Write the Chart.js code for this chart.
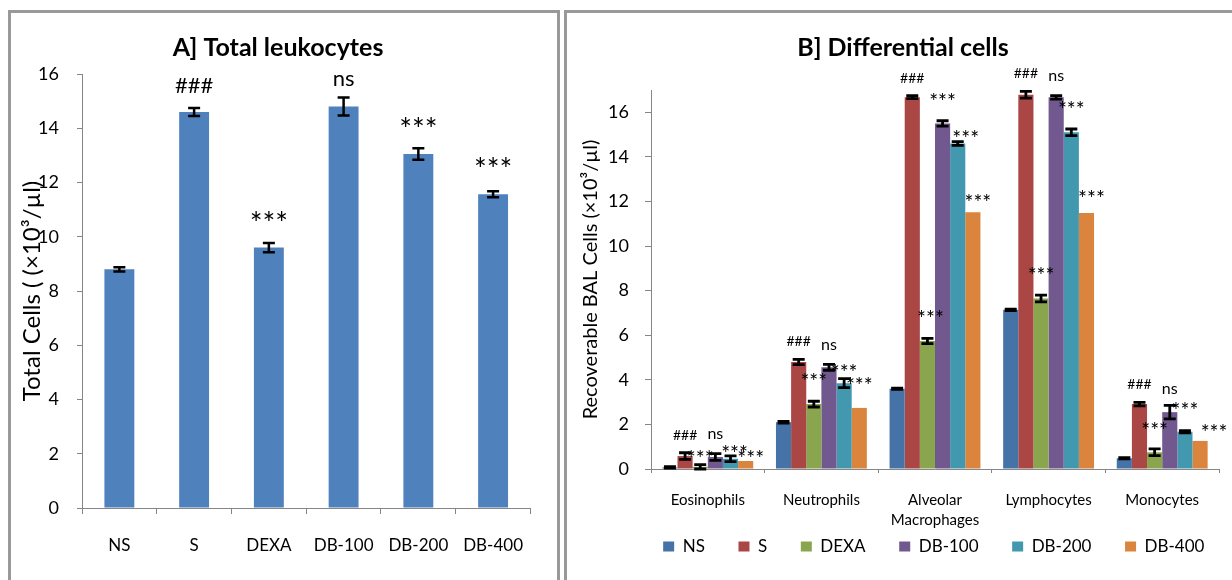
<!DOCTYPE html>
<html>
<head>
<meta charset="utf-8">
<script src="https://cdn.jsdelivr.net/npm/chart.js@4.4.1/dist/chart.umd.min.js"></script>
<style>
    body { margin: 0; background: #fff; width: 1232px; height: 580px; overflow: hidden; position: relative; }
    .panel { position: absolute; top: 10px; height: 620px; border: 3px solid #999; box-sizing: border-box; }
    #panelA { left: 8px; width: 552px; }
    #panelB { left: 564px; width: 700px; }
    canvas { position: absolute; }
    #chartA { left: 11px; top: 13px; }
    #chartB { left: 568px; top: 13px; }
</style>
</head>
<body>
<div class="panel" id="panelA"></div>
<div class="panel" id="panelB"></div>
<canvas id="chartA" width="534" height="543"></canvas>
<canvas id="chartB" width="670" height="552"></canvas>
<script>
// ========================================
// DADOS
// ========================================

// A] Total leukocytes
const groupsA = ['NS', 'S', 'DEXA', 'DB-100', 'DB-200', 'DB-400'];
const totalCells = [8.8, 14.6, 9.6, 14.8, 13.05, 11.57];
const totalCellsErr = [0.08, 0.15, 0.17, 0.33, 0.21, 0.11];
const totalCellsSig = ['', '###', '***', 'ns', '***', '***'];

// B] Differential cells
const cellTypes = ['Eosinophils', 'Neutrophils', ['Alveolar', 'Macrophages'], 'Lymphocytes', 'Monocytes'];
const groupsB = ['NS', 'S', 'DEXA', 'DB-100', 'DB-200', 'DB-400'];

const valNS = [0.07, 2.1, 3.6, 7.14, 0.48];
const valS = [0.58, 4.8, 16.68, 16.79, 2.91];
const valDEXA = [0.1, 2.91, 5.74, 7.65, 0.75];
const valDB100 = [0.54, 4.56, 15.5, 16.67, 2.55];
const valDB200 = [0.46, 3.85, 14.6, 15.1, 1.67];
const valDB400 = [0.36, 2.74, 11.52, 11.48, 1.26];

const errNS = [0.03, 0.04, 0.03, 0.03, 0.03];
const errS = [0.15, 0.12, 0.07, 0.15, 0.08];
const errDEXA = [0.1, 0.13, 0.12, 0.15, 0.15];
const errDB100 = [0.15, 0.13, 0.12, 0.08, 0.3];
const errDB200 = [0.13, 0.2, 0.08, 0.15, 0.05];
const errDB400 = [0, 0, 0, 0, 0];

const sigS = ['###', '###', '###', '###', '###'];
const sigDEXA = ['***', '***', '***', '***', '***'];
const sigDB100 = ['ns', 'ns', '***', 'ns', 'ns'];
const sigDB200 = ['***', '***', '***', '***', '***'];
const sigDB400 = ['***', '***', '***', '***', '***'];

// ========================================
// ESTILO
// ========================================
const FONT = "Lato, 'Open Sans', sans-serif";
const AXIS = '#868686';
const coresB = ['#4572A7', '#AA4643', '#89A54E', '#71588F', '#4198AF', '#DB843D'];

Chart.defaults.font.family = FONT;
Chart.defaults.color = '#000';

// --- barras de erro (média ± erro) ---
const errorBarsPlugin = {
    id: 'errorBars',
    afterDatasetsDraw(chart, args, opts) {
        const { ctx } = chart;
        const y = chart.scales.y;
        ctx.save();
        ctx.strokeStyle = '#000';
        ctx.lineWidth = opts.lineWidth;
        chart.data.datasets.forEach((ds, i) => {
            if (!ds.errors) return;
            chart.getDatasetMeta(i).data.forEach((bar, j) => {
                const e = ds.errors[j];
                if (!e) return;
                const top = y.getPixelForValue(ds.data[j] + e);
                const bot = y.getPixelForValue(ds.data[j] - e);
                const half = opts.capWidth / 2;
                ctx.beginPath();
                ctx.moveTo(bar.x, top); ctx.lineTo(bar.x, bot);
                ctx.moveTo(bar.x - half, top); ctx.lineTo(bar.x + half, top);
                ctx.moveTo(bar.x - half, bot); ctx.lineTo(bar.x + half, bot);
                ctx.stroke();
            });
        });
        ctx.restore();
    }
};

// --- marcas de significância (###, ***, ns) ---
const sigPlugin = {
    id: 'sigLabels',
    afterDatasetsDraw(chart, args, opts) {
        const { ctx } = chart;
        const y = chart.scales.y;
        ctx.save();
        ctx.fillStyle = '#000';
        ctx.textAlign = 'center';
        ctx.textBaseline = 'alphabetic';
        chart.data.datasets.forEach((ds, i) => {
            if (!ds.sig) return;
            chart.getDatasetMeta(i).data.forEach((bar, j) => {
                const txt = ds.sig[j];
                if (!txt) return;
                const st = opts.styles[txt];
                const adj = opts.adjust[i + '-' + j] || {};
                const err = ds.errors ? (ds.errors[j] || 0) : 0;
                const top = y.getPixelForValue(ds.data[j] + err);
                const gap = adj.gap !== undefined ? adj.gap : st.gap;
                ctx.font = `${st.size}px ${FONT}`;
                ctx.fillText(txt, bar.x + (adj.dx || 0), top - gap + st.size * st.mid);
            });
        });
        ctx.restore();
    }
};

// ========================================
// GRÁFICO A
// ========================================
new Chart(document.getElementById('chartA'), {
    type: 'bar',
    data: {
        labels: groupsA,
        datasets: [{
            data: totalCells,
            errors: totalCellsErr,
            sig: totalCellsSig,
            backgroundColor: '#4F81BD',
            barPercentage: 0.4,
            categoryPercentage: 1
        }]
    },
    options: {
        responsive: false,
        animation: false,
        layout: { padding: 0 },
        plugins: {
            legend: { display: false },
            tooltip: { enabled: false },
            title: {
                display: true,
                text: 'A] Total leukocytes',
                color: '#000',
                font: { size: 25, weight: 'bold' },
                padding: { top: 20, bottom: 11 }
            },
            errorBars: { lineWidth: 2.5, capWidth: 12 },
            sigLabels: {
                styles: {
                    '###': { size: 22, gap: 23, mid: 0.36 },
                    'ns': { size: 22, gap: 17, mid: 0.26 },
                    '***': { size: 30, gap: 27, mid: 0.6 }
                },
                adjust: { '0-4': { gap: 26 }, '0-5': { gap: 29 } }
            }
        },
        scales: {
            x: {
                ticks: { color: '#000', font: { size: 17 }, padding: 21, maxRotation: 0, autoSkip: false },
                grid: { drawOnChartArea: false, tickLength: 6, color: AXIS },
                border: { color: AXIS },
                afterFit: s => { s.height = 48; }
            },
            y: {
                min: 0, max: 16,
                ticks: { stepSize: 2, color: '#000', font: { size: 18 }, padding: 18 },
                grid: { drawOnChartArea: false, tickLength: 5, color: AXIS },
                border: { color: AXIS },
                title: {
                    display: true,
                    text: 'Total Cells ( (×10³/µl)',
                    color: '#000',
                    font: { size: 24 },
                    padding: { top: 6.6, bottom: 0 }
                },
                afterFit: s => { s.width = 71; }
            },
            // margem à direita da área do gráfico
            yPad: {
                position: 'right',
                display: true,
                grid: { display: false },
                ticks: { display: false },
                border: { display: false },
                afterFit: s => { s.width = 12; }
            }
        }
    },
    plugins: [errorBarsPlugin, sigPlugin]
});

// ========================================
// GRÁFICO B
// ========================================
const seriesB = [
    { data: valNS, errors: errNS, sig: null },
    { data: valS, errors: errS, sig: sigS },
    { data: valDEXA, errors: errDEXA, sig: sigDEXA },
    { data: valDB100, errors: errDB100, sig: sigDB100 },
    { data: valDB200, errors: errDB200, sig: sigDB200 },
    { data: valDB400, errors: errDB400, sig: sigDB400 }
];

// espaço extra entre os itens da legenda (sem mexer na altura)
const LEGEND_GAP = '      ';

new Chart(document.getElementById('chartB'), {
    type: 'bar',
    data: {
        labels: cellTypes,
        datasets: seriesB.map((s, i) => ({
            label: groupsB[i],
            data: s.data,
            errors: s.errors,
            sig: s.sig,
            backgroundColor: coresB[i],
            barPercentage: 1,
            categoryPercentage: 0.8
        }))
    },
    options: {
        responsive: false,
        animation: false,
        layout: { padding: 0 },
        plugins: {
            tooltip: { enabled: false },
            title: {
                display: true,
                text: 'B] Differential cells',
                color: '#000',
                font: { size: 25, weight: 'bold' },
                padding: { top: 20, bottom: 27 }
            },
            legend: {
                position: 'bottom',
                align: 'end',
                labels: {
                    boxWidth: 11, boxHeight: 10, padding: 7.5, color: '#000', font: { size: 17 },
                    generateLabels: chart => Chart.defaults.plugins.legend.labels.generateLabels(chart)
                        .map(l => ({ ...l, text: l.text + LEGEND_GAP }))
                }
            },
            errorBars: { lineWidth: 2.8, capWidth: 12 },
            sigLabels: {
                styles: {
                    '###': { size: 14, gap: 18, mid: 0.36 },
                    'ns': { size: 16, gap: 19, mid: 0.26 },
                    '***': { size: 21, gap: 25, mid: 0.6 }
                },
                adjust: {
                    '2-0': { gap: 11.5 }, '4-0': { dx: 4, gap: 7 }, '5-0': { dx: 5, gap: 8 },
                    '4-1': { gap: 11 }, '5-1': { gap: 28 },
                    '2-2': { dx: 3 }, '3-2': { gap: 24 }, '4-2': { dx: 8, gap: 8 }, '5-2': { dx: 5, gap: 15 },
                    '5-3': { dx: 5, gap: 20 },
                    '2-4': { gap: 24 }, '3-4': { gap: 15.5 }, '5-4': { dx: 14, gap: 14 }
                }
            }
        },
        scales: {
            x: {
                ticks: { color: '#000', font: { size: 15, lineHeight: 1.33 }, padding: 17.5, maxRotation: 0, autoSkip: false },
                grid: { drawOnChartArea: false, tickLength: 4, color: AXIS },
                border: { color: AXIS },
                afterFit: s => { s.height = 61.5; }
            },
            y: {
                min: 0, max: 17,
                ticks: { stepSize: 2, includeBounds: false, color: '#000', font: { size: 18 }, padding: 16 },
                grid: { drawOnChartArea: false, tickLength: 6, color: AXIS },
                border: { color: AXIS },
                title: {
                    display: true,
                    text: 'Recoverable BAL Cells (×10³/µl)',
                    color: '#000',
                    font: { size: 20 },
                    padding: { top: 11, bottom: 0 }
                },
                afterFit: s => { s.width = 83; }
            },
            // margem à direita da área do gráfico
            yPad: {
                position: 'right',
                display: true,
                grid: { display: false },
                ticks: { display: false },
                border: { display: false },
                afterFit: s => { s.width = 19; }
            }
        }
    },
    plugins: [errorBarsPlugin, sigPlugin]
});
</script>
</body>
</html>
